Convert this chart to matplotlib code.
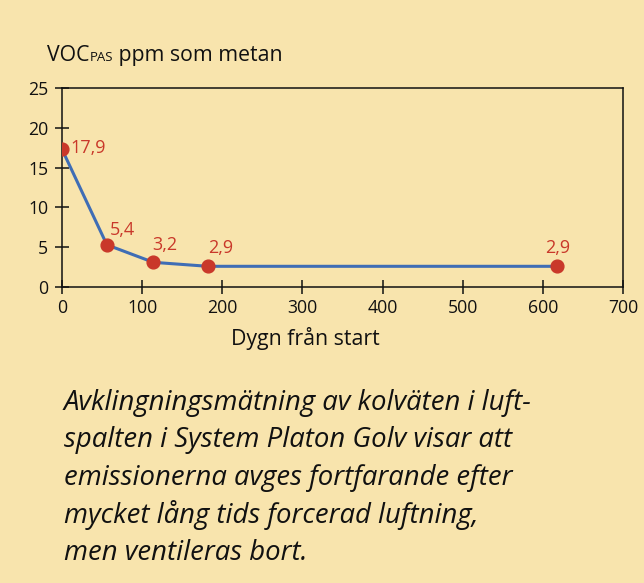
import matplotlib
matplotlib.use("Agg")
import matplotlib.pyplot as plt

days = [0, 56, 114, 182, 618]
voc = [17.3, 5.3, 3.1, 2.6, 2.6]
value_labels = ["17,9", "5,4", "3,2", "2,9", "2,9"]
x_ticks = [0, 100, 200, 300, 400, 500, 600, 700]
y_ticks = [0, 5, 10, 15, 20, 25]
caption_lines = [
    "Avklingningsmätning av kolväten i luft-",
    "spalten i System Platon Golv visar att",
    "emissionerna avges fortfarande efter",
    "mycket lång tids forcerad luftning,",
    "men ventileras bort.",
]

BG = "#F8E4AD"
RED = "#C9382A"
BLUE = "#3F6DB5"
FONT = ["Open Sans", "DejaVu Sans"]
plt.rcParams["font.family"] = FONT

W, H = 644, 583
fig = plt.figure(figsize=(W / 100, H / 100), dpi=100, facecolor=BG)
ax = fig.add_axes([62 / W, 1 - 287 / H, (623 - 62) / W, (287 - 88) / H])
ax.set_facecolor(BG)
ax.plot(days, voc, color=BLUE, lw=2.2, zorder=2, solid_joinstyle="round")
ax.plot(days, voc, "o", color=RED, ms=9.2, zorder=3)

offsets = [(8, -4, "left"), (3, 10, "left"), (-1, 12, "left"),
           (0, 13, "left"), (0, 13, "center")]
for x, y, lab, (dx, dy, ha) in zip(days, voc, value_labels, offsets):
    ax.annotate(lab, (x, y), xytext=(dx, dy), textcoords="offset pixels",
                ha=ha, va="baseline", color=RED, fontsize=13)

ax.set_xlim(0, 700)
ax.set_ylim(0, 25)
ax.set_xticks(x_ticks)
ax.set_yticks(y_ticks)
ax.tick_params(direction="inout", length=10, width=1.1, labelsize=12.7,
               colors="#111111")
ax.tick_params(axis="y", pad=5)
ax.tick_params(axis="x", pad=3.5)
for s in ax.spines.values():
    s.set_linewidth(1.1)
    s.set_color("#111111")

fig.text(305 / W, 1 - 338 / H, "Dygn från start", ha="center", va="center",
         fontsize=15.3, color="#111111")

# y label with small-caps subscript
fig.canvas.draw()
r = fig.canvas.get_renderer()
yb = 1 - 61 / H
t1 = fig.text(47 / W, yb, "VOC", ha="left", va="baseline",
              fontsize=15.3, color="#111111")
bb = t1.get_window_extent(r)
t2 = fig.text(bb.x1 / W, yb, "PAS", ha="left", va="baseline",
              fontsize=9.5, color="#111111")
bb2 = t2.get_window_extent(r)
fig.text(bb2.x1 / W, yb, " ppm som metan", ha="left", va="baseline",
         fontsize=15.3, color="#111111")

for i, line in enumerate(caption_lines):
    fig.text(64 / W, 1 - (403 + i * 37.5) / H, line, ha="left", va="center",
             fontsize=19.8, style="italic", color="#111111")

fig.savefig("out.png", dpi=100, facecolor=BG)
